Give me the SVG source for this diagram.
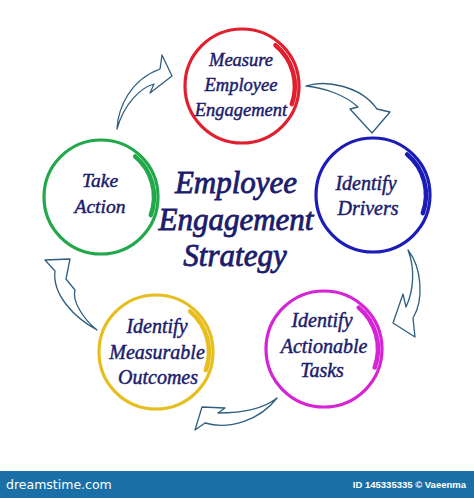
<svg xmlns="http://www.w3.org/2000/svg" width="474" height="498" viewBox="0 0 474 498">
<style>
.ring{fill:none;stroke-width:3.2}
.tail{fill:none;stroke-width:4.5;stroke-linecap:round}
.lbl{font-family:"Liberation Serif","Times New Roman",serif;font-style:italic;fill:#1c1c6c;stroke:#1c1c6c;stroke-width:0.45;text-anchor:middle}
.big{stroke-width:0.8}
.arrow{fill:#fff;stroke:#2f5f7f;stroke-width:1.3;stroke-linejoin:round}
</style>
<rect width="474" height="498" fill="#fff"/>
<g id="connectors">
<path class="arrow" d="M117,129 C118,108 130,80 160,69 L162,55 L172,76 L150,93 L154,84 C140,88 124,104 117,129 Z"/>
<path class="arrow" d="M306,86 C325,80 360,85 377,109 L390,112 L372,133 L350,109 L358,107 C345,95 325,88 306,86 Z"/>
<path class="arrow" d="M408,250 C422,268 424,300 413,318 L415,337 L393,323 L403,294 L406,307 C414,290 415,268 408,250 Z"/>
<path class="arrow" d="M277,398 C262,410 240,413 218,413 L225,408 L202,407 L195,430 L205,423 C230,430 260,420 277,398 Z"/>
<path class="arrow" d="M97,330 C75,318 52,295 55,271 L45,260 L70,259 L66,279 L75,290 C72,300 82,318 97,330 Z"/>
</g>
<g id="measure">
<circle class="ring" cx="242" cy="86" r="57" stroke="#e0202e"/>
<path class="tail" d="M275.4,45.2 A53,53 0 0 1 291.8,104.1" stroke="#e0202e"/>
<text class="lbl" font-size="18.5"><tspan x="241" y="66">Measure</tspan><tspan x="241" y="91">Employee</tspan><tspan x="241" y="116">Engagement</tspan></text>
</g>
<g id="drivers">
<circle class="ring" cx="373" cy="195" r="57" stroke="#1c1cb8"/>
<path class="tail" d="M407.1,154.4 A53,53 0 0 1 422.8,213.1" stroke="#1c1cb8"/>
<text class="lbl" font-size="20"><tspan x="366" y="190">Identify</tspan><tspan x="368" y="215">Drivers</tspan></text>
</g>
<g id="tasks">
<circle class="ring" cx="324" cy="349" r="58" stroke="#d424d4"/>
<path class="tail" d="M358.7,307.6 A54,54 0 0 1 374.7,367.5" stroke="#d424d4"/>
<text class="lbl" font-size="20"><tspan x="322" y="327">Identify</tspan><tspan x="324" y="353">Actionable</tspan><tspan x="322" y="377">Tasks</tspan></text>
</g>
<g id="outcomes">
<circle class="ring" cx="156" cy="352" r="57" stroke="#e6be1e"/>
<path class="tail" d="M190.1,311.4 A53,53 0 0 1 205.8,370.1" stroke="#e6be1e"/>
<text class="lbl" font-size="20"><tspan x="157" y="333">Identify</tspan><tspan x="157" y="359">Measurable</tspan><tspan x="158" y="384">Outcomes</tspan></text>
</g>
<g id="action">
<circle class="ring" cx="101" cy="197" r="57" stroke="#22a84a"/>
<path class="tail" d="M135.1,156.4 A53,53 0 0 1 150.8,215.1" stroke="#22a84a"/>
<text class="lbl" font-size="19.5"><tspan x="100" y="187">Take</tspan><tspan x="100" y="213">Action</tspan></text>
</g>
<g id="title">
<text class="lbl big" font-size="31"><tspan x="236" y="193">Employee</tspan><tspan x="236" y="230">Engagement</tspan><tspan x="235" y="266">Strategy</tspan></text>
</g>
<g id="banner">
<rect x="0" y="471" width="474" height="27" fill="#1a6fa6"/>
<text x="6" y="489" font-family="DejaVu Sans, sans-serif" font-size="12.5" fill="#fff">dreamstime.com</text>
<text x="466" y="488" font-family="Liberation Sans, Arial, sans-serif" font-size="9.5" font-weight="bold" fill="#fff" text-anchor="end">ID 145335335 © Vaeenma</text>
</g>
</svg>
